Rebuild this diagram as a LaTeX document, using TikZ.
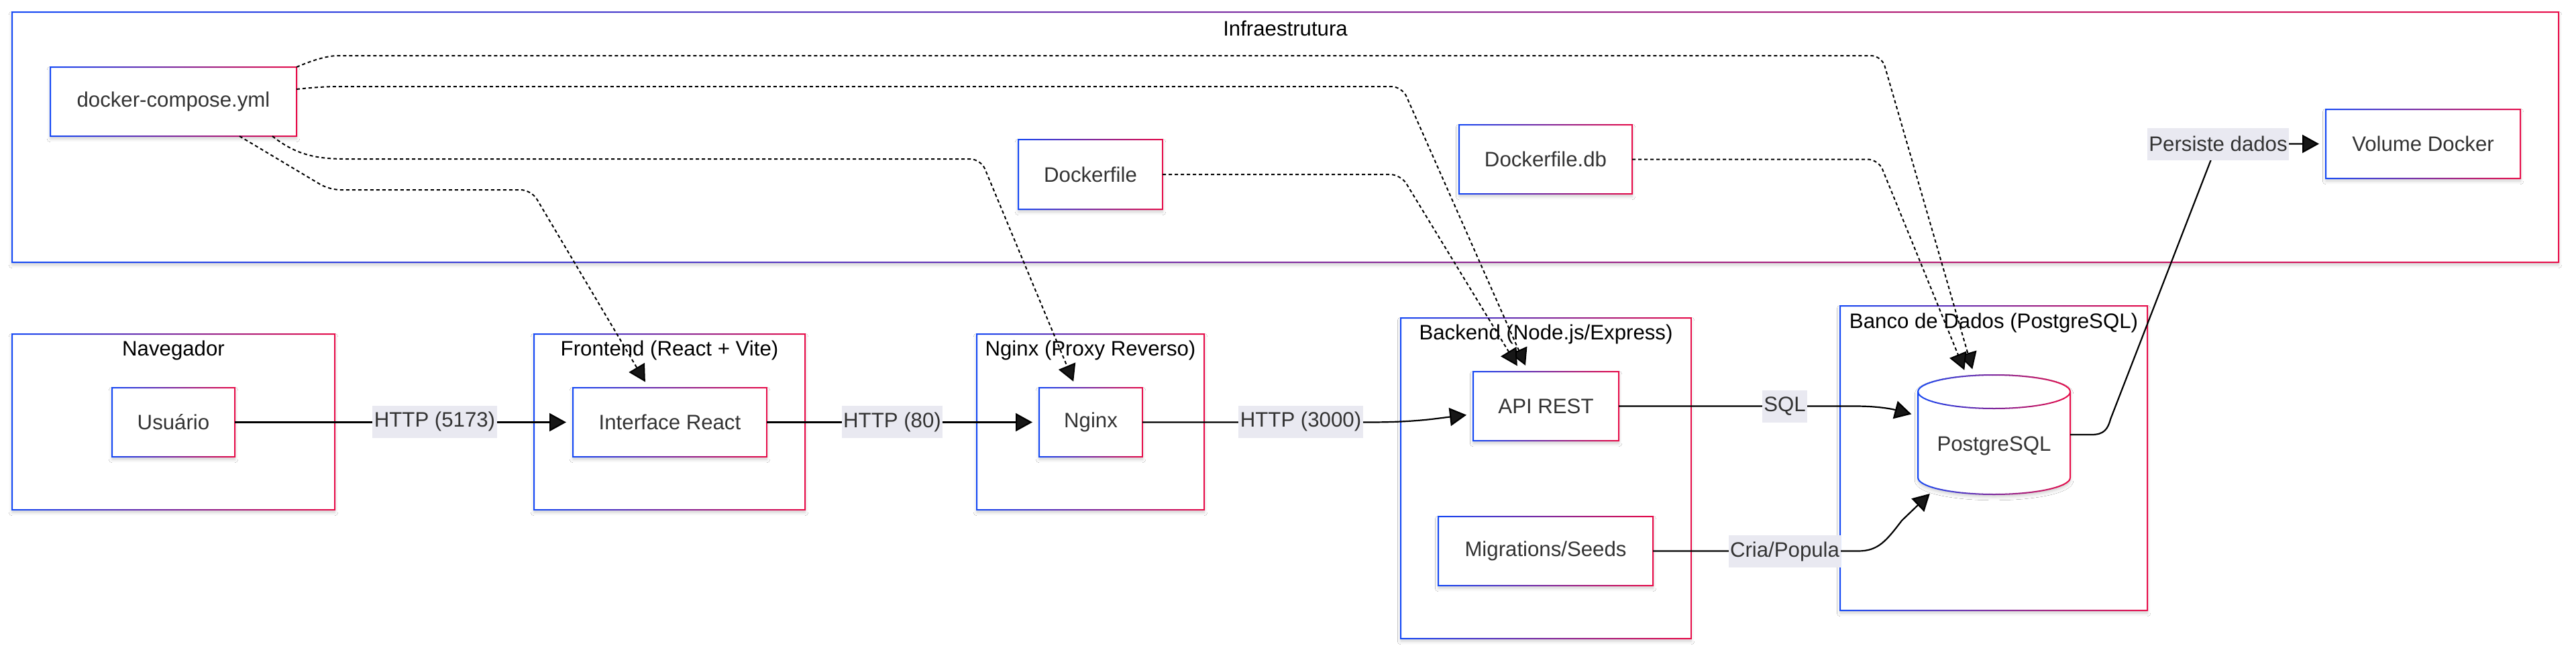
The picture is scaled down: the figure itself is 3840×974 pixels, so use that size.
\documentclass[tikz,border=0pt]{standalone}
\usepackage{fontspec}
\setmainfont{Liberation Sans}
\usetikzlibrary{arrows.meta,calc,shadows.blur}
\definecolor{gA}{RGB}{20,72,245}
\definecolor{gB}{RGB}{232,12,72}
\definecolor{txt}{RGB}{51,51,51}
\definecolor{lblbg}{RGB}{233,233,241}
\newcommand\dfont{\fontsize{7.8pt}{9pt}\selectfont}
\tikzset{
  whbox/.style args={#1/#2}{minimum width=#1*0.25pt, minimum height=#2*0.25pt},
  shad/.style={blur shadow={shadow xshift=0pt, shadow yshift=-1pt, shadow blur radius=1.2pt, shadow opacity=18, shadow blur steps=6}},
  grp/.style={shape=rectangle, fill=white, shad, inner sep=0, outer sep=0},
  nbox/.style={shape=rectangle, fill=white, shad, inner sep=0, outer sep=0, text=txt, font=\dfont},
  gtitle/.style={inner sep=0, text=black, font=\dfont},
  elabel/.style={fill=lblbg, text=txt, font=\dfont, inner xsep=0.6pt, inner ysep=0, minimum height=12pt},
  flow/.style={line width=0.55pt, -{Triangle[length=6.25pt,width=6.75pt]}, shorten >=2.5pt},
  dep/.style={line width=0.5pt, dash pattern=on 1.25pt off 1pt, -{Triangle[length=6.25pt,width=6.75pt]}, shorten >=2.5pt, rounded corners=4pt},
}
\newcommand\gborder[1]{%
  \shade[left color=gA, right color=gB, even odd rule]
    ($(#1.south west)+(-1,1)$) rectangle ($(#1.north east)+(1,-1)$)
    ($(#1.south west)+(1,-1)$) rectangle ($(#1.north east)+(-1,1)$);}
\newcommand\cylout{(2859,584) -- (2859,712) arc[start angle=180,end angle=360,x radius=28.375pt,y radius=6.25pt] -- (3086,584) arc[start angle=0,end angle=180,x radius=28.375pt,y radius=6.25pt] -- cycle}
\begin{document}
\begin{tikzpicture}[x=0.25pt,y=-0.25pt]
\useasboundingbox (0,0) rectangle (3840,974);
\fill[white] (0,0) rectangle (3840,974);
% groups
\node[grp, whbox=3796/373] (infra) at (1916,204.5) {};
\node[grp, whbox=481/262] (navg) at (258.5,629) {};
\node[grp, whbox=404/262] (frontg) at (998,629) {};
\node[grp, whbox=339/262] (nginxg) at (1625.5,629) {};
\node[grp, whbox=433/478] (backg) at (2304.5,713) {};
\node[grp, whbox=458/454] (dbg) at (2972,683) {};
\foreach \g in {infra,navg,frontg,nginxg,backg,dbg}{\gborder{\g}}
\node[gtitle] (infraT) at (1916,42) {Infraestrutura};
\node[gtitle] (navT) at (258.5,522) {Navegador};
\node[gtitle] (frontT) at (998,522) {Frontend (React + Vite)};
\node[gtitle] (nginxT) at (1625.5,522) {Nginx (Proxy Reverso)};
\node[gtitle] (backT) at (2304.5,498) {Backend (Node.js/Express)};
\node[gtitle] (dbT) at (2972,481) {Banco de Dados (PostgreSQL)};
% nodes
\node[nbox, whbox=367/103] (dc) at (258.5,151.5) {docker-compose.yml};
\node[nbox, whbox=215/104] (dockerfile) at (1625.5,260) {Dockerfile};
\node[nbox, whbox=258/103] (dockerfiledb) at (2304,237.5) {Dockerfile.db};
\node[nbox, whbox=290/103] (volume) at (3612,214.5) {Volume Docker};
\node[nbox, whbox=183/103] (usuario) at (258.5,629.5) {Usuário};
\node[nbox, whbox=289/103] (react) at (998.5,629.5) {Interface React};
\node[nbox, whbox=154/103] (nginx) at (1626,629.5) {Nginx};
\node[nbox, whbox=217/103] (api) at (2304.5,605.5) {API REST};
\node[nbox, whbox=320/103] (mig) at (2304,821.5) {Migrations/Seeds};
\foreach \n in {dc,dockerfile,dockerfiledb,volume,usuario,react,nginx,api,mig}{\gborder{\n}}
% cylinder
\path[fill=white, shad] \cylout;
\foreach \i in {0,...,46}{
  \pgfmathtruncatemacro\pc{100-100*\i/46}
  \begin{scope}
    \clip (2855+5*\i,540) rectangle (2860.5+5*\i,750);
    \draw[line width=0.5pt, draw=gA!\pc!gB] \cylout;
    \draw[line width=0.5pt, draw=gA!\pc!gB] (2859,584) arc[start angle=180,end angle=360,x radius=28.375pt,y radius=6.25pt];
  \end{scope}
}
\node[inner sep=0, outer sep=0, whbox=227/178] (pg) at (2972.5,648) {};
\node[inner sep=0, text=txt, font=\dfont] (pgT) at (2972.5,665) {PostgreSQL};
% dotted dependencies
\draw[dep] (dc.north east) .. controls (470,88) and (490,83) .. (520,83) -- (2805,83) -- ($(pg.north)+(-29.5,1)$);
\draw[dep] (dockerfiledb.east) -- (2800,237.5) -- ($(pg.north)+(-40.5,2)$);
\draw[dep] ($(dc.east)+(0,-18.5)$) .. controls (470,130) and (490,129) .. (520,129) -- (2090,129) -- ($(api.north)+(-26.5,0)$);
\draw[dep] (dockerfile.east) -- (2088,260) -- ($(api.north)+(-37.5,0)$);
\draw[dep] ($(dc.south east)+(-36,0)$) .. controls (440,230) and (470,237) .. (531,237) -- (1462,237) -- ($(nginx.north)+(-22,0)$);
\draw[dep] ($(dc.south east)+(-85,0)$) -- (491,283) -- (792,283) -- ($(react.north)+(-31.5,0)$);
% flows
\draw[flow] (usuario.east) -- (react.west);
\draw[flow] (react.east) -- (nginx.west);
\draw[flow] (nginx.east) -- (2040,629.5) .. controls (2110,629.5) and (2140,624) .. ($(api.west)+(0,12)$);
\draw[flow] (api.east) -- (2765,605.5) .. controls (2805,605.5) and (2825,611) .. ($(pg.west)+(0,-28)$);
\draw[flow] (mig.east) -- (2770,821.5) .. controls (2800,821.5) and (2812,806) .. (2835,776) -- ($(pg.south)+(-88.5,-8)$);
\draw[flow] (pg.east) -- (3118,648) .. controls (3136,648) and (3142,640) .. (3146,625) -- (3305,214.5) -- (volume.west);
% labels
\node[elabel] (l1) at (648,628.5) {HTTP (5173)};
\node[elabel] (l2) at (1330,629) {HTTP (80)};
\node[elabel] (l3) at (1939,628.5) {HTTP (3000)};
\node[elabel] (l4) at (2660.5,605.5) {SQL};
\node[elabel] (l5) at (2660.5,822) {Cria/Popula};
\node[elabel] (l6) at (3306.5,214.5) {Persiste dados};
\end{tikzpicture}
\end{document}
